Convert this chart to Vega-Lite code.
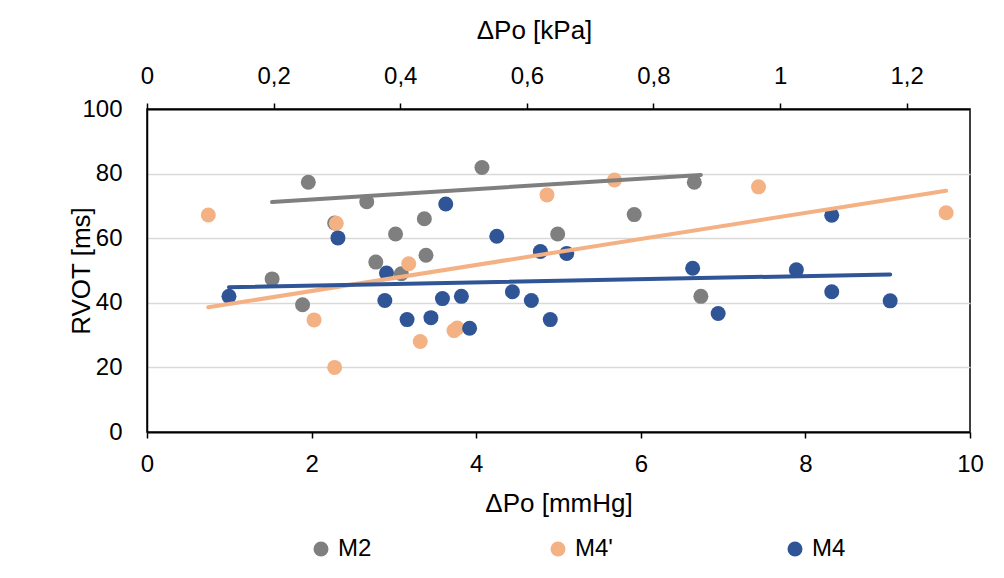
{
  "$schema": "https://vega.github.io/schema/vega-lite/v6.json",
  "autosize": "none",
  "width": 823,
  "height": 323,
  "padding": {"left": 147, "top": 109, "right": 34, "bottom": 146},
  "background": "white",
  "datasets": {
    "kpa": [{"kPa": 0}, {"kPa": 1.3}],
    "points": [
      {"series": "M2", "mmHg": 1.52, "rvot": 47.4},
      {"series": "M2", "mmHg": 1.89, "rvot": 39.4},
      {"series": "M2", "mmHg": 1.96, "rvot": 77.3},
      {"series": "M2", "mmHg": 2.28, "rvot": 64.7},
      {"series": "M2", "mmHg": 2.67, "rvot": 71.3},
      {"series": "M2", "mmHg": 2.78, "rvot": 52.6},
      {"series": "M2", "mmHg": 3.02, "rvot": 61.3},
      {"series": "M2", "mmHg": 3.09, "rvot": 49.0},
      {"series": "M2", "mmHg": 3.37, "rvot": 66.0},
      {"series": "M2", "mmHg": 3.39, "rvot": 54.7},
      {"series": "M2", "mmHg": 4.07, "rvot": 81.9},
      {"series": "M2", "mmHg": 4.99, "rvot": 61.3},
      {"series": "M2", "mmHg": 5.92, "rvot": 67.3},
      {"series": "M2", "mmHg": 6.65, "rvot": 77.3},
      {"series": "M2", "mmHg": 6.73, "rvot": 42.0},
      {"series": "M4'", "mmHg": 0.745, "rvot": 67.2},
      {"series": "M4'", "mmHg": 2.03, "rvot": 34.7},
      {"series": "M4'", "mmHg": 2.28, "rvot": 20.0},
      {"series": "M4'", "mmHg": 2.30, "rvot": 64.6},
      {"series": "M4'", "mmHg": 3.18, "rvot": 52.1},
      {"series": "M4'", "mmHg": 3.32, "rvot": 28.0},
      {"series": "M4'", "mmHg": 3.73, "rvot": 31.4},
      {"series": "M4'", "mmHg": 3.77, "rvot": 32.2},
      {"series": "M4'", "mmHg": 4.86, "rvot": 73.4},
      {"series": "M4'", "mmHg": 5.68, "rvot": 78.0},
      {"series": "M4'", "mmHg": 7.43, "rvot": 75.9},
      {"series": "M4'", "mmHg": 9.71, "rvot": 67.9},
      {"series": "M4", "mmHg": 0.996, "rvot": 42.0},
      {"series": "M4", "mmHg": 2.32, "rvot": 60.1},
      {"series": "M4", "mmHg": 2.89, "rvot": 40.7},
      {"series": "M4", "mmHg": 2.91, "rvot": 49.2},
      {"series": "M4", "mmHg": 3.16, "rvot": 34.8},
      {"series": "M4", "mmHg": 3.45, "rvot": 35.4},
      {"series": "M4", "mmHg": 3.59, "rvot": 41.3},
      {"series": "M4", "mmHg": 3.63, "rvot": 70.6},
      {"series": "M4", "mmHg": 3.82, "rvot": 42.0},
      {"series": "M4", "mmHg": 3.92, "rvot": 32.1},
      {"series": "M4", "mmHg": 4.25, "rvot": 60.6},
      {"series": "M4", "mmHg": 4.44, "rvot": 43.4},
      {"series": "M4", "mmHg": 4.67, "rvot": 40.7},
      {"series": "M4", "mmHg": 4.78, "rvot": 55.9},
      {"series": "M4", "mmHg": 4.90, "rvot": 34.8},
      {"series": "M4", "mmHg": 5.10, "rvot": 55.3},
      {"series": "M4", "mmHg": 6.63, "rvot": 50.7},
      {"series": "M4", "mmHg": 6.94, "rvot": 36.7},
      {"series": "M4", "mmHg": 7.89, "rvot": 50.2},
      {"series": "M4", "mmHg": 8.32, "rvot": 67.1},
      {"series": "M4", "mmHg": 8.32, "rvot": 43.4},
      {"series": "M4", "mmHg": 9.03, "rvot": 40.6}
    ],
    "trend": [
      {"series": "M2", "mmHg": 1.52, "rvot": 71.2},
      {"series": "M2", "mmHg": 6.73, "rvot": 79.6},
      {"series": "M4'", "mmHg": 0.745, "rvot": 38.6},
      {"series": "M4'", "mmHg": 9.71, "rvot": 74.7},
      {"series": "M4", "mmHg": 0.996, "rvot": 44.8},
      {"series": "M4", "mmHg": 9.03, "rvot": 48.8}
    ]
  },
  "layer": [
    {
      "data": {"name": "kpa"},
      "mark": {"type": "point", "opacity": 0},
      "encoding": {
        "x": {
          "field": "kPa", "type": "quantitative",
          "scale": {"domain": [0, 1.3], "nice": false, "zero": false},
          "axis": {
            "orient": "top", "values": [0, 0.2, 0.4, 0.6, 0.8, 1, 1.2],
            "format": "~g", "labelExpr": "replace(datum.label, '.', ',')",
            "title": "ΔPo [kPa]", "titleX": 387, "titleY": -79, "titleBaseline": "middle",
            "domainWidth": 2, "tickSize": 6, "tickWidth": 1.5, "labelPadding": 15,
            "labelFlush": false, "labelOverlap": false, "grid": false
          }
        }
      }
    },
    {
      "data": {"name": "points"},
      "mark": {"type": "point", "filled": true, "shape": "circle", "size": 225, "opacity": 1, "strokeWidth": 0},
      "encoding": {
        "x": {
          "field": "mmHg", "type": "quantitative",
          "scale": {"domain": [0, 10], "nice": false},
          "axis": {
            "orient": "bottom", "values": [0, 2, 4, 6, 8, 10],
            "title": "ΔPo [mmHg]", "titleY": 71, "titleBaseline": "middle",
            "domainWidth": 2, "tickSize": 6, "tickWidth": 1.5, "labelPadding": 14,
            "labelFlush": false, "labelOverlap": false, "grid": false
          }
        },
        "y": {
          "field": "rvot", "type": "quantitative",
          "scale": {"domain": [0, 100], "nice": false},
          "axis": {
            "orient": "left",
            "values": [0, 20, 40, 60, 80, 100], "title": "RVOT [ms]",
            "grid": true, "gridColor": "#D9D9D9", "gridWidth": 1.5,
            "ticks": false, "domainWidth": 1.5, "labelPadding": 25,
            "titleX": -65.5, "titleBaseline": "middle", "labelOverlap": false
          }
        },
        "color": {
          "field": "series", "type": "nominal",
          "scale": {"domain": ["M2", "M4'", "M4"], "range": ["#7F7F7F", "#F4B183", "#2F5597"]},
          "legend": {
            "orient": "none", "legendX": 162, "legendY": 428, "direction": "horizontal",
            "title": null, "symbolType": "circle", "symbolSize": 225, "symbolStrokeWidth": 0,
            "symbolOpacity": 1, "labelFontSize": 24, "labelColor": "black", "labelOffset": 5,
            "columnPadding": 170, "gridAlign": "all", "padding": 0
          }
        }
      }
    },
    {
      "data": {"name": "trend"},
      "mark": {"type": "line", "strokeWidth": 4, "strokeCap": "round"},
      "encoding": {
        "x": {"field": "mmHg", "type": "quantitative", "scale": {"domain": [0, 10], "nice": false}, "axis": null},
        "y": {
          "field": "rvot", "type": "quantitative",
          "scale": {"domain": [0, 100], "nice": false},
          "axis": {
            "orient": "left",
            "values": [0, 20, 40, 60, 80, 100], "title": "RVOT [ms]",
            "grid": true, "gridColor": "#D9D9D9", "gridWidth": 1.5,
            "ticks": false, "domainWidth": 1.5, "labelPadding": 25,
            "titleX": -65.5, "titleBaseline": "middle", "labelOverlap": false
          }
        },
        "color": {"field": "series", "type": "nominal", "scale": {"domain": ["M2", "M4'", "M4"], "range": ["#7F7F7F", "#F4B183", "#2F5597"]}, "legend": null},
        "detail": {"field": "series"}
      }
    }
  ],
  "resolve": {"scale": {"x": "independent"}},
  "config": {
    "font": "Liberation Sans",
    "view": {"stroke": "black", "strokeWidth": 1.5},
    "axis": {
      "labelFont": "Liberation Sans", "titleFont": "Liberation Sans",
      "labelColor": "black", "titleColor": "black", "titleFontWeight": "normal",
      "labelFontSize": 24, "titleFontSize": 26, "domainColor": "black", "tickColor": "black"
    },
    "legend": {"labelFont": "Liberation Sans"}
  }
}
